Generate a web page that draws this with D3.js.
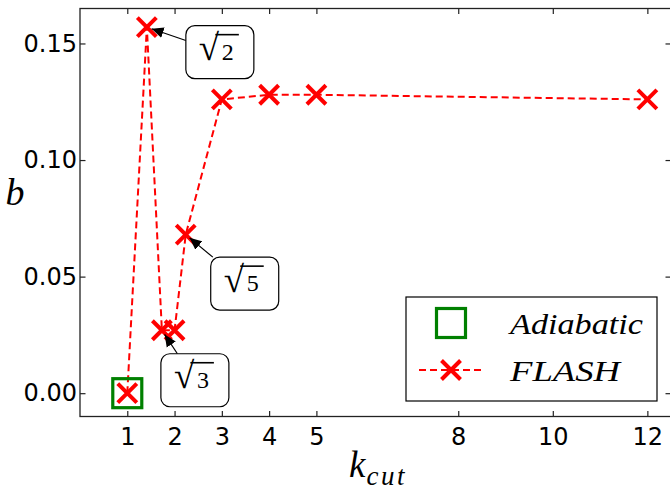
<!DOCTYPE html>
<html>
<head>
<meta charset="utf-8">
<script src="https://cdn.jsdelivr.net/npm/d3@7"></script>
<style>
  html, body { margin: 0; padding: 0; background: #fff; }
  svg { display: block; }
</style>
</head>
<body>
<svg id="chart" width="670" height="491"></svg>
<script>
// k_cut values and the b coefficient for each run
const kFlash = [1, 1.414, 1.732, 2, 2.236, 3, 4, 5, 12];
const bFlash = [0.000, 0.157, 0.027, 0.027, 0.068, 0.126, 0.128, 0.128, 0.126];
const kAdiabatic = [1];
const bAdiabatic = [0.000];

const xTicks = [1, 2, 3, 4, 5, 8, 10, 12];
const yTicks = [0.00, 0.05, 0.10, 0.15];

// callouts for the irrational cut-offs: index into the FLASH series and the radicand
const callouts = [
  { idx: 1, radicand: "2", dx: 73, dy: 25 },
  { idx: 2, radicand: "3", dx: 33, dy: 50 },
  { idx: 4, radicand: "5", dx: 59, dy: 49 }
];

const legendItems = ["Adiabatic", "FLASH"];

const svg = d3.select("#chart");
const plot = { left: 80, right: 671, top: 8.5, bottom: 416.5 };

const x = d3.scaleLinear().domain([0, 12.5]).range([plot.left, plot.right]);
const y = d3.scaleLinear().domain([-0.01, 0.165]).range([plot.bottom, plot.top]);

const sans = "'DejaVu Sans', sans-serif";
const serif = "'Liberation Serif', 'DejaVu Serif', serif";
const tickLen = 5.5;
const spine = "#222";

// axes with inward ticks on all four sides
const gBottom = svg.append("g").attr("transform", `translate(0,${plot.bottom})`)
  .call(d3.axisBottom(x).tickValues(xTicks).tickFormat(d3.format("d"))
    .tickSizeInner(-tickLen).tickSizeOuter(0).tickPadding(6));
const gTop = svg.append("g").attr("transform", `translate(0,${plot.top})`)
  .call(d3.axisTop(x).tickValues(xTicks).tickFormat("")
    .tickSizeInner(-tickLen).tickSizeOuter(0));
const gLeft = svg.append("g").attr("transform", `translate(${plot.left},0)`)
  .call(d3.axisLeft(y).tickValues(yTicks).tickFormat(d3.format(".2f"))
    .tickSizeInner(-tickLen).tickSizeOuter(0).tickPadding(3));
const gRight = svg.append("g").attr("transform", `translate(${plot.right},0)`)
  .call(d3.axisRight(y).tickValues(yTicks).tickFormat("")
    .tickSizeInner(-tickLen).tickSizeOuter(0));

[gBottom, gTop, gLeft, gRight].forEach(g => {
  g.select(".domain").remove();
  g.selectAll(".tick line").attr("stroke", spine).attr("stroke-width", 1.2);
  g.selectAll(".tick text").attr("fill", "#000")
    .style("font-family", sans).style("font-size", "24px");
});
gBottom.selectAll(".tick text").attr("dy", "0.95em");

// frame
svg.append("rect")
  .attr("x", plot.left).attr("y", plot.top)
  .attr("width", plot.right - plot.left).attr("height", plot.bottom - plot.top)
  .attr("fill", "none").attr("stroke", spine).attr("stroke-width", 1.3);

// axis labels
svg.append("text")
  .attr("x", 15).attr("y", 205).attr("text-anchor", "middle")
  .style("font-family", serif).style("font-style", "italic").style("font-size", "38px")
  .text("b");
const xl = svg.append("text")
  .attr("x", 349).attr("y", 477)
  .style("font-family", serif).style("font-style", "italic").style("font-size", "37px");
xl.append("tspan").text("k");
xl.append("tspan").attr("dx", 1).attr("dy", 8)
  .style("font-size", "27px").style("letter-spacing", "2.5px").text("cut");

// data
const plotArea = svg.append("g");

const line = d3.line().x(d => x(d[0])).y(d => y(d[1]));
const flashPts = kFlash.map((k, i) => [k, bFlash[i]]);
plotArea.append("path")
  .datum(flashPts)
  .attr("d", line)
  .attr("fill", "none").attr("stroke", "#ff0000").attr("stroke-width", 2)
  .attr("stroke-dasharray", "7,4");

const squareSide = 29;
function drawSquare(g, cx, cy) {
  g.append("rect")
    .attr("x", cx - squareSide / 2).attr("y", cy - squareSide / 2)
    .attr("width", squareSide).attr("height", squareSide)
    .attr("fill", "none").attr("stroke", "#008000").attr("stroke-width", 3.2);
}
const xHalf = 9.5;
function drawCross(g, cx, cy) {
  g.append("path")
    .attr("d", `M${cx - xHalf},${cy - xHalf}L${cx + xHalf},${cy + xHalf}M${cx - xHalf},${cy + xHalf}L${cx + xHalf},${cy - xHalf}`)
    .attr("stroke", "#ff0000").attr("stroke-width", 4).attr("fill", "none");
}

kAdiabatic.forEach((k, i) => drawSquare(plotArea, x(k), y(bAdiabatic[i])));
flashPts.forEach(d => drawCross(plotArea, x(d[0]), y(d[1])));

// callouts with arrows
svg.append("defs").append("marker")
  .attr("id", "head").attr("viewBox", "0 0 10 10")
  .attr("refX", 10).attr("refY", 5)
  .attr("markerWidth", 12).attr("markerHeight", 12)
  .attr("markerUnits", "userSpaceOnUse").attr("orient", "auto")
  .append("path").attr("d", "M0,0.5L10,5L0,9.5Z").attr("fill", "#000");

const boxW = 68, boxH = 53;
callouts.forEach(c => {
  const px = x(kFlash[c.idx]), py = y(bFlash[c.idx]);
  const cx = px + c.dx, cy = py + c.dy;
  // clip the connecting line to the box outline
  const vx = px - cx, vy = py - cy;
  const t = Math.min(Math.abs((boxW / 2) / vx), Math.abs((boxH / 2) / vy));
  const sx = cx + vx * t, sy = cy + vy * t;
  const len = Math.hypot(px - sx, py - sy);
  const shrink = 5;
  const ex = px - (px - sx) / len * shrink, ey = py - (py - sy) / len * shrink;
  svg.append("line")
    .attr("x1", sx).attr("y1", sy).attr("x2", ex).attr("y2", ey)
    .attr("stroke", "#000").attr("stroke-width", 1.2)
    .attr("marker-end", "url(#head)");
  svg.append("rect")
    .attr("x", cx - boxW / 2).attr("y", cy - boxH / 2)
    .attr("width", boxW).attr("height", boxH)
    .attr("rx", 9).attr("ry", 9)
    .attr("fill", "#fff").attr("stroke", "#000").attr("stroke-width", 1.2);
  const lbl = svg.append("text")
    .attr("x", cx - 21).attr("y", cy + 8)
    .style("font-family", serif);
  lbl.append("tspan").style("font-size", "37px").text("\u221A");
  lbl.append("tspan").attr("x", cx + 2).attr("y", cy + 7.5)
    .style("font-size", "24px").text(c.radicand);
  svg.append("line")
    .attr("x1", cx - 4.5).attr("x2", cx + 19)
    .attr("y1", cy - 17.5).attr("y2", cy - 17.5)
    .attr("stroke", "#000").attr("stroke-width", 1.6);
});

// legend
const leg = svg.append("g");
leg.append("rect")
  .attr("x", 406).attr("y", 297).attr("width", 251).attr("height", 104)
  .attr("fill", "#fff").attr("stroke", "#000").attr("stroke-width", 1.2);
drawSquare(leg, 451, 323);
leg.append("line")
  .attr("x1", 419).attr("x2", 483).attr("y1", 370).attr("y2", 370)
  .attr("stroke", "#ff0000").attr("stroke-width", 2).attr("stroke-dasharray", "7,4");
drawCross(leg, 451, 370);
const legY = [334, 381];
const legW = [133, 110];
legendItems.forEach((name, i) => {
  leg.append("text")
    .attr("x", 510).attr("y", legY[i])
    .attr("textLength", legW[i]).attr("lengthAdjust", "spacingAndGlyphs")
    .style("font-family", serif).style("font-style", "italic").style("font-size", "30px")
    .text(name);
});
</script>
</body>
</html>
